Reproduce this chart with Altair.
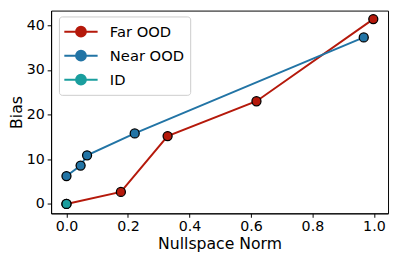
import altair as alt
import pandas as pd

series_names = ["Far OOD", "Near OOD", "ID"]
colors = ["#b5190b", "#2274a5", "#1a9e9e"]

far_x = [0.0, 0.177, 0.329, 0.618, 0.998]
far_y = [0.0, 2.7, 15.2, 23.0, 41.4]
near_x = [0.0, 0.046, 0.067, 0.222, 0.967]
near_y = [6.25, 8.6, 10.9, 15.8, 37.3]
id_x = [0.0]
id_y = [0.0]

x_ticks = [0.0, 0.2, 0.4, 0.6, 0.8, 1.0]
y_ticks = [0, 10, 20, 30, 40]

rows = []
for name, xs, ys in [("Far OOD", far_x, far_y), ("Near OOD", near_x, near_y), ("ID", id_x, id_y)]:
    for i, (a, b) in enumerate(zip(xs, ys)):
        rows.append({"series": name, "x": a, "y": b, "i": i, "z": series_names.index(name)})
df = pd.DataFrame(rows)

FONT = "DejaVu Sans"
legend_path = "M-2,0 L2,0 M0.59,0 A0.59,0.59 0 1 1 -0.59,0 A0.59,0.59 0 1 1 0.59,0 Z"

color_scale = alt.Scale(domain=series_names, range=colors)
xs = alt.X("x:Q", scale=alt.Scale(domain=[-0.05, 1.046], nice=False, zero=False),
           axis=alt.Axis(values=x_ticks, format=".1f", title="Nullspace Norm", grid=False))
ys = alt.Y("y:Q", scale=alt.Scale(domain=[-2.1, 43.3], nice=False, zero=False),
           axis=alt.Axis(values=y_ticks, title="Bias", grid=False))

legend = alt.Legend(
    title=None, orient="none", legendX=8, legendY=6,
    symbolType=legend_path, symbolSize=289, symbolStrokeWidth=2,
    symbolOffset=7, labelOffset=20, padding=6, rowPadding=5.5,
    fillColor="white", strokeColor="#cccccc", cornerRadius=3,
    labelFont=FONT, labelFontSize=15, labelColor="black",
)

lines = alt.Chart(df).mark_line(strokeWidth=2).encode(
    x=xs, y=ys,
    color=alt.Color("series:N", scale=color_scale, legend=legend, sort=series_names),
    order="i:Q",
    detail="series:N",
)
points = alt.Chart(df).mark_point(filled=True, size=85, stroke="black", strokeWidth=1.3, opacity=1).encode(
    x=xs, y=ys,
    fill=alt.Fill("series:N", scale=color_scale, legend=None),
    order="z:Q",
)

chart = alt.layer(lines, points).properties(
    width=344, height=207,
    autosize=alt.AutoSizeParams(type="none"),
    padding={"left": 44, "top": 0, "right": 2, "bottom": 46},
).configure_view(stroke="black", strokeWidth=1).configure_axis(
    domainColor="black", tickColor="black", tickSize=4, tickWidth=1,
    labelFont=FONT, labelFontSize=14.5, labelColor="black", labelPadding=3,
    titleFont=FONT, titleFontSize=16, titleFontWeight="normal", titleColor="black",
).configure_axisY(titlePadding=2).configure_axisX(titlePadding=2)

chart.save("out.html", embed_options={"renderer": "svg", "actions": False})
